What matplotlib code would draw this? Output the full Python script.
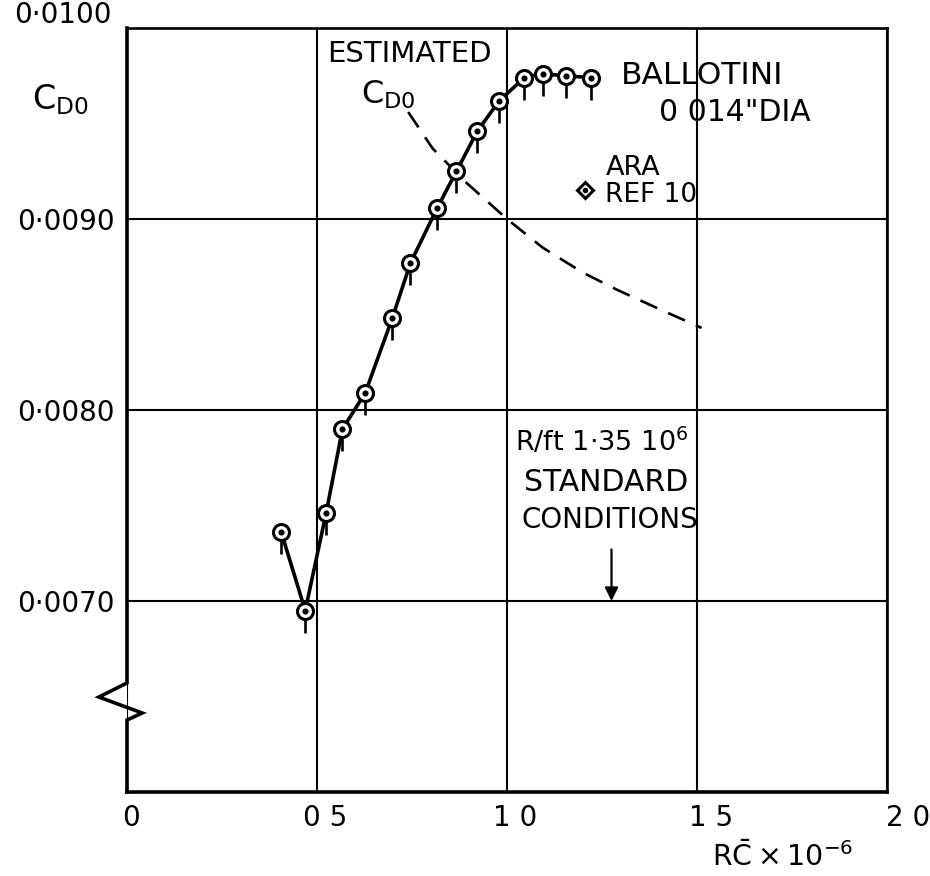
import matplotlib
matplotlib.use('Agg')
import matplotlib.pyplot as plt
from matplotlib.path import Path
from matplotlib.transforms import ScaledTranslation

font = {'size': 20, 'family': 'DejaVu Sans'}
matplotlib.rc('font', **font)
matplotlib.rcParams['mathtext.default'] = 'regular'

# Ballotini 0.014" dia transition, R_cbar x 1e-6 vs CD0
re_ball = [0.406, 0.469, 0.524, 0.567, 0.627, 0.698, 0.746, 0.817, 0.867,
           0.922, 0.980, 1.046, 1.094, 1.154, 1.220]
cd_ball = [0.00736, 0.00695, 0.00746, 0.00790, 0.00809, 0.00848, 0.00877,
           0.00906, 0.00925, 0.00946, 0.00962, 0.00974, 0.00976, 0.00975,
           0.00974]

# estimated CD0 (dashed)
re_est = [0.740, 0.804, 0.893, 1.000, 1.094, 1.199, 1.289, 1.410, 1.512]
cd_est = [0.00956, 0.00937, 0.00919, 0.00900, 0.00885, 0.00872, 0.00863,
          0.00852, 0.00843]

# ARA ref 10 point
re_ara = [1.204]
cd_ara = [0.00915]

# standard conditions R/ft 1.35e6
re_std = 1.275

x_ticks = [0, 0.5, 1.0, 1.5, 2.0]
x_labels = ['0', '0 5', '1 0', '1 5', '2 0']
y_ticks = [0.0070, 0.0080, 0.0090, 0.0100]
y_labels = ['0·0070', '0·0080', '0·0090', '']

fig = plt.figure(figsize=(9.3, 8.76), dpi=100)
ax = fig.add_axes([127 / 930, 1 - 792 / 876, 760 / 930, 764 / 876])
ax.set_xlim(0, 2.0)
ax.set_ylim(0.0060, 0.0100)

ax.set_xticks(x_ticks)
ax.set_xticklabels(x_labels)
ax.set_yticks(y_ticks)
ax.set_yticklabels(y_labels)
ax.tick_params(length=0, pad=9)
ax.grid(True, color='black', lw=1.5)
ax.set_axisbelow(True)

# hand-lettered labels sit a bit right of the grid lines
shifts = [0.04, 0.08, 0.08, 0.14, 0.21]
for lbl, dx in zip(ax.get_xticklabels(), shifts):
    lbl.set_transform(lbl.get_transform() + ScaledTranslation(dx, 0, fig.dpi_scale_trans))

# frame
for side in ['top', 'right']:
    ax.spines[side].set_linewidth(1.9)
ax.spines['bottom'].set_linewidth(2.6)
ax.spines['left'].set_visible(False)

# left axis with break symbol
brk_x = [0, 0, -0.037, 0.020, 0, 0]
brk_y = [1, 0.1427, 0.1243, 0.1034, 0.0942, 0]
ax.plot(brk_x, brk_y, color='black', lw=2.6, transform=ax.transAxes,
        clip_on=False, solid_joinstyle='miter')

ax.text(-0.02, 1.017, '0·0100', transform=ax.transAxes, ha='right', va='center')

# estimated CD0 curve
ax.plot(re_est, cd_est, color='black', lw=1.9, dashes=(7, 4.5))

# ballotini curve
ax.plot(re_ball, cd_ball, color='black', lw=2.6, zorder=3)
flag = Path([(0, 0), (0, -22)], [Path.MOVETO, Path.LINETO])
ax.plot(re_ball, cd_ball, ls='none', marker=flag, ms=31.7, mew=1.9,
        mec='black', zorder=4)
ax.plot(re_ball, cd_ball, ls='none', marker='o', ms=11.5, mew=2.2,
        mec='black', mfc='white', zorder=5)
ax.plot(re_ball, cd_ball, ls='none', marker='o', ms=3.4, color='black', zorder=6)

# ARA point
ax.plot(re_ara, cd_ara, ls='none', marker='D', ms=8, mew=2.2,
        mec='black', mfc='white', zorder=5)
ax.plot(re_ara, cd_ara, ls='none', marker='o', ms=3, color='black', zorder=6)

# standard conditions arrow
ax.annotate('', xy=(re_std, 0.00700), xytext=(re_std, 0.00727),
            arrowprops=dict(arrowstyle='-|>', color='black', lw=1.6,
                            mutation_scale=20, shrinkA=0, shrinkB=0))

ax.text(0.743, 0.009864, 'ESTIMATED', ha='center', va='center', fontsize=21)
ax.text(0.688, 0.00965, r'$C_{D0}$', ha='center', va='center', fontsize=23)
ax.text(1.299, 0.009749, 'BALLOTINI', ha='left', va='center', fontsize=22.5)
ax.text(1.399, 0.00956, '0 014"DIA', ha='left', va='center', fontsize=21.5)
ax.text(1.26, 0.009267, 'ARA', ha='left', va='center', fontsize=19.5)
ax.text(1.257, 0.009126, 'REF 10', ha='left', va='center', fontsize=19)
ax.text(1.022, 0.007832, 'R/ft 1·35 10$^6$', ha='left', va='center', fontsize=19.5)
ax.text(1.26, 0.007623, 'STANDARD', ha='center', va='center', fontsize=21.5)
ax.text(1.27, 0.007424, 'CONDITIONS', ha='center', va='center', fontsize=20)

fig.text(60 / 930, 1 - 100 / 876, r'$C_{D0}$', ha='center', va='center', fontsize=24)
fig.text(783 / 930, 1 - 857 / 876, r'$R\bar{C} \times 10^{-6}$', ha='center',
         va='center', fontsize=20.5)

plt.savefig('out.png', dpi=100)
